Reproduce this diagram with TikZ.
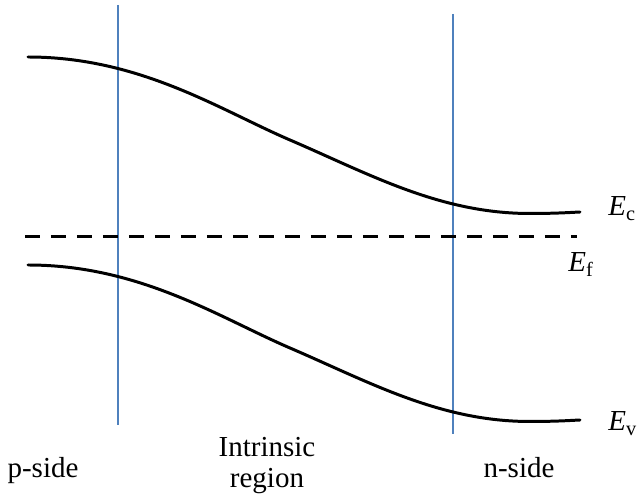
\documentclass[tikz,border=0pt]{standalone}
\usepackage{fontspec}
\setmainfont{Liberation Serif}
\usepackage{tikz}
\usetikzlibrary{positioning,calc}
\definecolor{edgecolor}{RGB}{79,129,189}

\begin{document}
\begin{tikzpicture}[x=0.02cm, y=-0.02cm,
    every node/.style={font=\fontsize{16.5}{18}\selectfont, inner sep=0pt},
    band/.style={line width=1.7pt, line cap=round},
    fermi/.style={line width=1.7pt, dash pattern=on 0.3cm off 0.22cm},
    edge/.style={line width=0.85pt, edgecolor}]
    \useasboundingbox (0,0) rectangle (637,499);
    % Region boundaries
    \draw[edge] (118,5) -- (118,425);
    \draw[edge] (453,14) -- (453,434);
    % Conduction band edge
    \draw[band] (28,57) .. controls (140,57) and (220,110) .. (290,140)
      .. controls (370,174.4) and (440,213.5) .. (530,213.5)
      .. controls (555,213.5) and (570,212.5) .. (580,212);
    % Fermi level
    \draw[fermi] (25,237) -- (577,237);
    % Valence band edge
    \draw[band] (28,265) .. controls (140,265) and (220,318) .. (290,348)
      .. controls (370,382.4) and (440,421.5) .. (530,421.5)
      .. controls (555,421.5) and (570,420.5) .. (580,420);
    % Level labels
    \node[anchor=base west] (Ec) at (608,216) {\textit{E}\textsubscript{c}};
    \node[anchor=base west] (Ef) at (568,272) {\textit{E}\textsubscript{f}};
    \node[anchor=base west] (Ev) at (608,431) {\textit{E}\textsubscript{v}};
    % Region labels
    \node[anchor=base] (pside) at (43,478) {p-side};
    \node[anchor=base, align=center] (intr) at (267,488) {Intrinsic\\region};
    \node[anchor=base] (nside) at (519,478) {n-side};
\end{tikzpicture}
\end{document}
